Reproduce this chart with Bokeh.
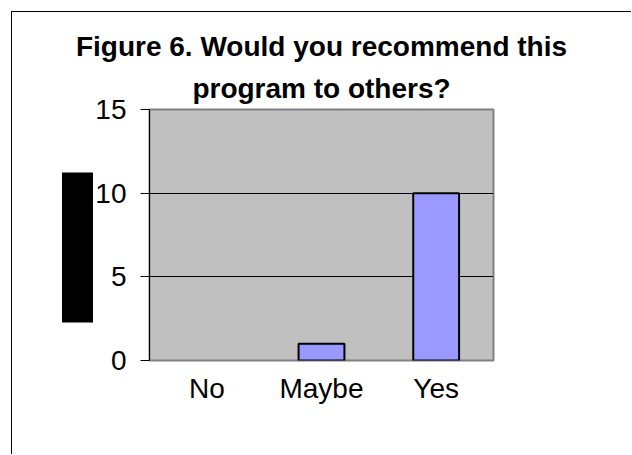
from bokeh.plotting import figure
from bokeh.models import ColumnDataSource, FactorRange, Range1d, FixedTicker, LinearAxis, Title
from bokeh.embed import file_html
from bokeh.resources import INLINE

# data
categories = ["No", "Maybe", "Yes"]
counts = [0, 1, 10]
y_ticks = [0, 5, 10, 15]
title_line1 = "Figure 6. Would you recommend this"
title_line2 = "program to others?"

FONT = "Liberation Sans"

shown = [(c, v) for c, v in zip(categories, counts) if v > 0]
source = ColumnDataSource(data=dict(cat=[c for c, _ in shown], val=[v for _, v in shown]))

p = figure(
    width=620, height=443,
    x_range=FactorRange(*categories, range_padding=0),
    y_range=Range1d(0, 15),
    output_backend="svg", toolbar_location=None, tools="",
    min_border_left=137, min_border_right=139, min_border_top=97, min_border_bottom=95,
)
p.margin = (11, 0, 0, 11)
p.styles = {"border-top": "1px solid black", "border-left": "1px solid black",
            "border-right": "none", "border-bottom": "none"}

def style_title(t):
    t.align = "center"
    t.text_font = FONT
    t.text_font_size = "28px"
    t.text_font_style = "bold"
    t.text_color = "black"

p.title.text = title_line1
style_title(p.title)
p.title.standoff = 7
t2 = Title(text=title_line2)
style_title(t2)
t2.standoff = 11
p.add_layout(t2, "above")

p.background_fill_color = "#c0c0c0"
p.border_fill_color = "white"
p.outline_line_color = "#808080"
p.outline_line_width = 2

p.vbar(x="cat", top="val", width=0.4, bottom=0, source=source,
       fill_color="#9999ff", line_color="black", line_width=2)

p.xgrid.grid_line_color = None
p.ygrid.grid_line_color = "black"
p.ygrid.grid_line_width = 1

p.yaxis.ticker = FixedTicker(ticks=y_ticks)
p.yaxis.minor_tick_line_color = None
p.yaxis.major_tick_in = 0
p.yaxis.major_tick_out = 9
p.yaxis.major_tick_line_color = "black"
p.yaxis.axis_line_color = "black"
p.yaxis.major_label_standoff = 14
p.yaxis.major_label_text_font = FONT
p.yaxis.major_label_text_font_size = "28px"
p.yaxis.major_label_text_color = "black"

p.xaxis.axis_line_color = None
p.xaxis.major_tick_line_color = None
p.xaxis.minor_tick_line_color = None
p.xaxis.major_label_standoff = 6
p.xaxis.major_label_text_font = FONT
p.xaxis.major_label_text_font_size = "28px"
p.xaxis.major_label_text_color = "black"

# invisible spacer axis, then a thick bounded axis line that forms the black block
spacer = LinearAxis(ticker=FixedTicker(ticks=[0]), axis_line_color=None,
                    major_tick_out=11, major_tick_in=0, major_tick_line_color="white",
                    minor_tick_line_color=None, major_label_standoff=0,
                    major_label_text_font_size="1px", major_label_text_color="white")
p.add_layout(spacer, "left")
block = LinearAxis(ticker=FixedTicker(ticks=[]), bounds=(2.27, 11.24),
                   axis_line_color="black", axis_line_width=31, axis_line_cap="butt",
                   major_tick_line_color=None, minor_tick_line_color=None)
p.add_layout(block, "left")

open("out.html", "w").write(file_html(p, INLINE))
